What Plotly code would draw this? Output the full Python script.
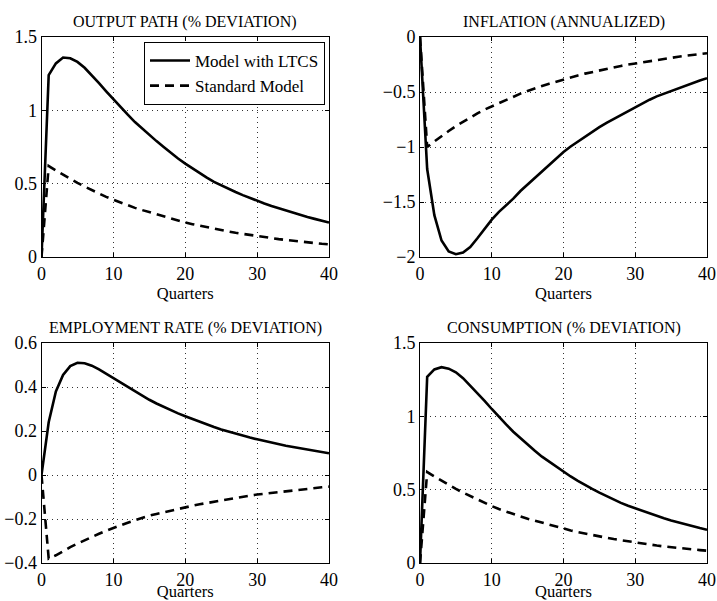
import plotly.graph_objects as go

quarters = list(range(41))

output_ltcs = [0, 1.24, 1.32, 1.36, 1.355, 1.33, 1.29, 1.24, 1.185, 1.13, 1.075, 1.02, 0.97, 0.92, 0.875,
               0.83, 0.79, 0.75, 0.71, 0.672, 0.637, 0.603, 0.571, 0.541, 0.512, 0.488, 0.465, 0.443,
               0.422, 0.402, 0.383, 0.365, 0.348, 0.332, 0.316, 0.301, 0.287, 0.273, 0.26, 0.247, 0.235]
output_std = [0, 0.62, 0.59, 0.56, 0.53, 0.505, 0.48, 0.455, 0.435, 0.41, 0.39, 0.37, 0.355, 0.335, 0.32,
              0.305, 0.29, 0.275, 0.26, 0.248, 0.235, 0.224, 0.213, 0.202, 0.192, 0.183, 0.174, 0.165,
              0.157, 0.149, 0.142, 0.135, 0.128, 0.122, 0.116, 0.11, 0.105, 0.1, 0.095, 0.09, 0.086]

infl_ltcs = [0, -1.2, -1.62, -1.85, -1.95, -1.975, -1.96, -1.91, -1.83, -1.74, -1.66, -1.59, -1.53, -1.47,
             -1.40, -1.34, -1.28, -1.22, -1.16, -1.10, -1.045, -0.995, -0.95, -0.905, -0.86, -0.82, -0.78,
             -0.745, -0.71, -0.675, -0.635, -0.6, -0.57, -0.54, -0.515, -0.49, -0.465, -0.44, -0.415,
             -0.395, -0.375]
infl_std = [0, -1.0, -0.95, -0.9, -0.855, -0.81, -0.77, -0.73, -0.695, -0.66, -0.63, -0.6, -0.57, -0.54,
            -0.515, -0.49, -0.465, -0.445, -0.425, -0.405, -0.385, -0.365, -0.35, -0.333, -0.318, -0.303,
            -0.289, -0.276, -0.263, -0.251, -0.24, -0.229, -0.218, -0.208, -0.198, -0.189, -0.18, -0.171,
            -0.163, -0.155, -0.148]

empl_ltcs = [0, 0.24, 0.38, 0.455, 0.495, 0.51, 0.508, 0.497, 0.48, 0.46, 0.44, 0.42, 0.4, 0.38, 0.36,
             0.342, 0.325, 0.309, 0.294, 0.28, 0.267, 0.254, 0.241, 0.229, 0.218, 0.207, 0.197, 0.187,
             0.178, 0.17, 0.162, 0.154, 0.147, 0.14, 0.133, 0.127, 0.121, 0.115, 0.11, 0.104, 0.099]
empl_std = [0, -0.38, -0.365, -0.345, -0.328, -0.312, -0.296, -0.282, -0.267, -0.253, -0.24, -0.228,
            -0.217, -0.206, -0.195, -0.185, -0.177, -0.169, -0.161, -0.154, -0.147, -0.14, -0.133, -0.127,
            -0.121, -0.115, -0.109, -0.104, -0.099, -0.094, -0.089, -0.085, -0.081, -0.077, -0.073,
            -0.069, -0.066, -0.062, -0.059, -0.056, -0.053]

cons_ltcs = [0, 1.27, 1.32, 1.335, 1.325, 1.3, 1.26, 1.21, 1.16, 1.105, 1.05, 0.995, 0.945, 0.895, 0.85,
             0.805, 0.765, 0.725, 0.69, 0.655, 0.62, 0.59, 0.56, 0.53, 0.505, 0.48, 0.455, 0.432, 0.41,
             0.39, 0.372, 0.354, 0.337, 0.32, 0.305, 0.29, 0.276, 0.262, 0.25, 0.238, 0.227]
cons_std = [0, 0.62, 0.59, 0.56, 0.53, 0.505, 0.48, 0.456, 0.434, 0.41, 0.388, 0.368, 0.35, 0.333, 0.317,
            0.302, 0.288, 0.274, 0.26, 0.247, 0.234, 0.222, 0.211, 0.2, 0.19, 0.181, 0.172, 0.163, 0.155,
            0.147, 0.139, 0.132, 0.125, 0.119, 0.113, 0.107, 0.102, 0.097, 0.092, 0.088, 0.084]

titles = ["OUTPUT PATH (% DEVIATION)", "INFLATION (ANNUALIZED)",
          "EMPLOYMENT RATE (% DEVIATION)", "CONSUMPTION (% DEVIATION)"]
series_names = ["Model with LTCS", "Standard Model"]
y_ranges = [[0, 1.5], [-2, 0], [-0.4, 0.6], [0, 1.5]]
y_ticks = [[0, 0.5, 1, 1.5], [-2, -1.5, -1, -0.5, 0], [-0.4, -0.2, 0, 0.2, 0.4, 0.6], [0, 0.5, 1, 1.5]]
x_ticks = [0, 10, 20, 30, 40]

data = [(output_ltcs, output_std), (infl_ltcs, infl_std), (empl_ltcs, empl_std), (cons_ltcs, cons_std)]

W, H = 717, 601
# pixel boxes (left, right, top, bottom)
boxes = [(41.5, 329, 37, 257), (420, 707, 37, 257), (41.5, 329, 343, 563), (420, 707, 343, 563)]

FONT = "Liberation Serif, Times New Roman, serif"
fig = go.Figure()
layout = dict(
    width=W, height=H, margin=dict(l=0, r=0, t=0, b=0, autoexpand=False),
    paper_bgcolor="white", plot_bgcolor="white",
    font=dict(family=FONT, size=16, color="black"),
    showlegend=True,
    legend=dict(x=144 / W, y=1 - 42 / H, xanchor="left", yanchor="top",
                bordercolor="black", borderwidth=1, bgcolor="white",
                font=dict(family=FONT, size=17), tracegroupgap=0, itemwidth=40),
)
annotations = []
for i, ((ltcs, std), (l, r, t, b)) in enumerate(zip(data, boxes)):
    k = "" if i == 0 else str(i + 1)
    fig.add_trace(go.Scatter(x=quarters, y=ltcs, mode="lines", name=series_names[0],
                             line=dict(color="black", width=2.6), showlegend=(i == 0),
                             xaxis="x" + k, yaxis="y" + k))
    fig.add_trace(go.Scatter(x=quarters, y=std, mode="lines", name=series_names[1],
                             line=dict(color="black", width=2.6, dash="9px,6px"), showlegend=(i == 0),
                             xaxis="x" + k, yaxis="y" + k))
    common = dict(showline=True, linecolor="black", linewidth=1, mirror="allticks",
                  ticks="inside", ticklen=4, tickcolor="black", showgrid=True,
                  gridcolor="#333", griddash="1px,4px", gridwidth=1, zeroline=False,
                  automargin=False, ticklabeloverflow="allow",
                  tickfont=dict(family=FONT, size=18))
    layout["xaxis" + k] = dict(domain=[l / W, r / W], range=[0, 40], tickvals=x_ticks,
                               anchor="y" + k, title=dict(text="Quarters", standoff=3,
                                                          font=dict(family=FONT, size=16.5)),
                               **common)
    layout["yaxis" + k] = dict(domain=[1 - b / H, 1 - t / H], range=y_ranges[i], tickvals=y_ticks[i],
                               anchor="x" + k, **common)
    annotations.append(dict(text=titles[i], x=(l + r) / 2 / W, y=1 - (t - 15) / H, xref="paper",
                            yref="paper", showarrow=False, xanchor="center", yanchor="middle",
                            font=dict(family=FONT, size=16)))
layout["annotations"] = annotations
fig.update_layout(**layout)
fig.write_html("out.html", config={"displayModeBar": False},
               post_script="document.body.style.margin='0';document.body.style.overflow='hidden';")
